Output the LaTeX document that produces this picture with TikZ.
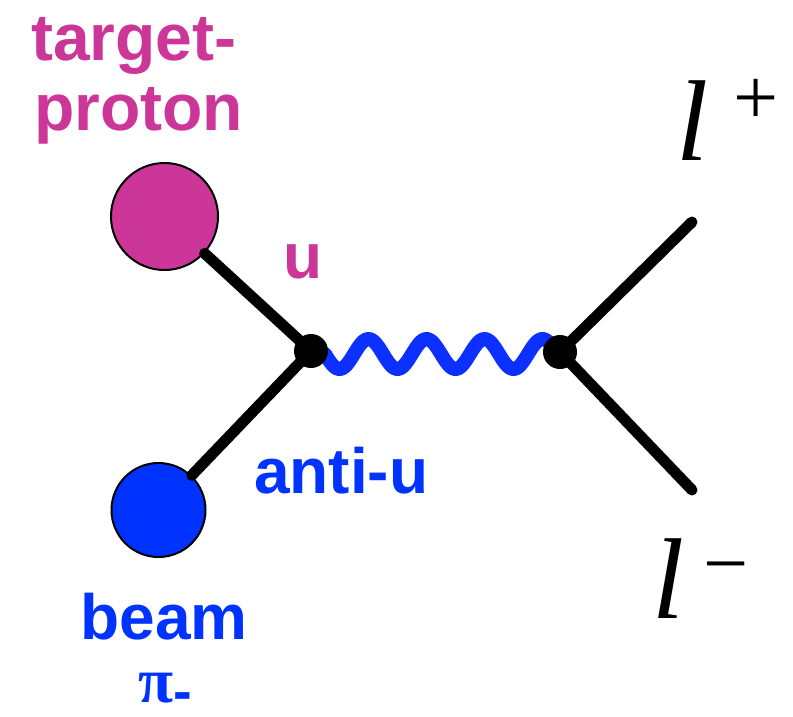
\documentclass[tikz,border=0pt]{standalone}
\usepackage{fontspec}
\newfontfamily\labsans{Liberation Sans}
\newfontfamily\labserif{Liberation Serif}
\definecolor{protmag}{RGB}{204,54,153}
\definecolor{beamblue}{RGB}{0,51,255}
\definecolor{wavblue}{RGB}{12,48,255}
\begin{document}
\begin{tikzpicture}[x=1pt,y=-1pt,
  lab/.style={inner sep=0pt, anchor=base west, font=\labsans\bfseries\fontsize{64}{64}\selectfont},
  biglab/.style={lab, font=\labsans\bfseries\fontsize{66}{66}\selectfont},
  lepl/.style={inner sep=0pt, anchor=base west, font=\labserif\itshape\fontsize{115}{115}\selectfont},
  lepsign/.style={inner sep=0pt, anchor=base west, font=\labserif\fontsize{80}{80}\selectfont},
  blob/.style={circle, draw=black, line width=2pt, inner sep=0pt},
  vertexdot/.style={circle, fill=black, inner sep=0pt, minimum size=34pt},
  fermion/.style={draw=black, line width=11pt, line cap=round},
  photon/.style={draw=wavblue, line width=14pt, line cap=round, line join=round}]
\useasboundingbox (0,0) rectangle (793,716);
% photon behind the vertices (4 periods from x=325 to x=557)
\draw[photon] plot[domain=325:557, samples=160, smooth] (\x, {354+15*sin(6.2069*(\x-325))});
% vertices
\node[vertexdot] (lv) at (311,351) {};
\node[vertexdot] (rv) at (560,352) {};
% hadron blobs
\node[blob, fill=protmag, minimum size=107pt] (pc) at (164.5,216.5) {};
\node[blob, fill=beamblue, minimum size=94pt] (bc) at (158.5,510) {};
% fermion lines
\coordinate (lp) at (692,222);
\coordinate (lm) at (692,490);
\draw[fermion] (pc) -- (lv.center);
\draw[fermion] (bc) -- (lv.center);
\draw[fermion] (rv.center) -- (lp);
\draw[fermion] (rv.center) -- (lm);
% labels
\node[biglab, text=protmag] (t1) at (31,60) {target-};
\node[biglab, text=protmag] (t2) at (34,130) {proton};
\node[lab, text=protmag] (uq) at (283,278) {u};
\node[lab, text=beamblue] (au) at (254,493) {anti-u};
\node[lab, text=beamblue] (bm) at (80.5,639) {beam};
\node[inner sep=0pt, anchor=base west, text=beamblue] (pi) at (138,702)
  {\labserif\bfseries\fontsize{64}{64}\selectfont π\labsans\bfseries\fontsize{56}{56}\selectfont\smash{\raisebox{-8pt}{-}}};
\node[lepl] (l1) at (676,160) {l};
\node[lepsign] (s1) at (733,124) {+};
\node[lepl] (l2) at (652,618) {l};
\node[lepsign] (s2) at (703,590) {−};
\end{tikzpicture}
\end{document}
